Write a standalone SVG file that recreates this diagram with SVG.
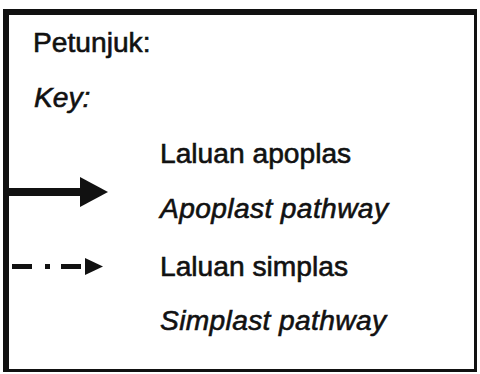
<svg xmlns="http://www.w3.org/2000/svg" width="480" height="374" viewBox="0 0 480 374">
<style>
text{font-family:"Liberation Sans",Arial,sans-serif;font-size:28.2px;fill:#111;stroke:#111;stroke-width:0.6px}
.i{font-style:italic}
</style>
<rect x="0" y="0" width="480" height="374" fill="#fff"/>
<g id="frame">
<rect x="3" y="9" width="474" height="363" fill="#111"/>
<rect x="9" y="15" width="465" height="354" fill="#fff"/>
</g>
<g id="title">
<text x="33" y="52">Petunjuk:</text>
<text class="i" x="34" y="107">Key:</text>
</g>
<g id="connectors">
<rect x="9" y="188" width="73" height="8" fill="#111"/>
<polygon points="80,177 108,192 80,207" fill="#111"/>
<rect x="12" y="264" width="20" height="5" fill="#111"/>
<rect x="45" y="264" width="5" height="5" fill="#111"/>
<rect x="61" y="264" width="20" height="5" fill="#111"/>
<polygon points="85,258 103,266.5 85,275" fill="#111"/>
</g>
<g id="apoplast">
<text x="160" y="163">Laluan apoplas</text>
<text class="i" x="160" y="218" textLength="228">Apoplast pathway</text>
</g>
<g id="simplast">
<text x="160" y="276">Laluan simplas</text>
<text class="i" x="160" y="330" textLength="226">Simplast pathway</text>
</g>
</svg>
